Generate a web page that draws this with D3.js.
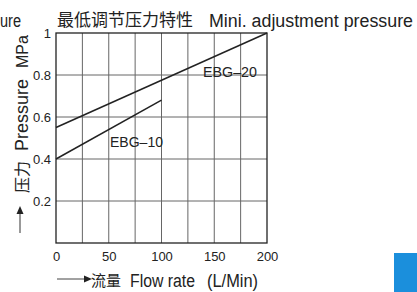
<!DOCTYPE html>
<html>
<head>
<meta charset="utf-8">
<script src="https://cdn.jsdelivr.net/npm/d3@7"></script>
<style>
  body { margin: 0; background: #fff; }
  svg text { font-family: "Liberation Sans", Arial, "Noto Sans CJK SC", sans-serif; fill: #222; }
  .cjk { font-family: "Noto Sans CJK SC", sans-serif; }
</style>
</head>
<body>
<div id="contenedor"></div>
<script>
// datos
var flujoTicks = [0, 50, 100, 150, 200]
var presionTicks = [0.2, 0.4, 0.6, 0.8, 1]
var series = ["EBG–20", "EBG–10"]
var ebg20 = [{q: 0, p: 0.55}, {q: 200, p: 1.0}]
var ebg10 = [{q: 0, p: 0.4}, {q: 100, p: 0.68}]

var ancho = 417
var alto = 292

var svg = d3.select("#contenedor")
  .append("svg")
  .attr("width", ancho)
  .attr("height", alto)

// ESCALAS
var x = d3.scaleLinear().domain([0, 200]).range([56, 267])
var y = d3.scaleLinear().domain([0, 1]).range([243, 33])

// rejilla
svg.selectAll(".vgrid")
  .data(d3.range(25, 200, 25))
  .enter()
  .append("line")
  .attr("x1", d => x(d)).attr("x2", d => x(d))
  .attr("y1", y(0)).attr("y2", y(1))
  .attr("stroke", "#666")
  .attr("stroke-width", 1)

svg.selectAll(".hgrid")
  .data(presionTicks.slice(0, 4))
  .enter()
  .append("line")
  .attr("x1", x(0)).attr("x2", x(200))
  .attr("y1", d => y(d)).attr("y2", d => y(d))
  .attr("stroke", "#666")
  .attr("stroke-width", 1)

svg.append("rect")
  .attr("x", x(0)).attr("y", y(1))
  .attr("width", x(200) - x(0)).attr("height", y(0) - y(1))
  .attr("fill", "none").attr("stroke", "#222").attr("stroke-width", 1.3)

// EJES
var ejeX = d3.axisBottom(x).tickValues(flujoTicks).tickSize(0).tickPadding(9)
svg.append("g")
  .attr("transform", "translate(0," + y(0) + ")")
  .call(ejeX)
  .call(g => g.select(".domain").remove())
  .selectAll("text").attr("font-size", 13).attr("fill", "#222")
  .style("font-family", "'Liberation Sans', Arial, sans-serif")

var ejeY = d3.axisLeft(y).tickValues(presionTicks).tickFormat(d3.format("~g")).tickSize(0).tickPadding(5)
svg.append("g")
  .attr("transform", "translate(" + x(0) + ",0)")
  .call(ejeY)
  .call(g => g.select(".domain").remove())
  .selectAll("text").attr("font-size", 13).attr("fill", "#222")
  .style("font-family", "'Liberation Sans', Arial, sans-serif")

// lineas
var linea = d3.line().x(d => x(d.q)).y(d => y(d.p))
svg.selectAll(".serie")
  .data([ebg20, ebg10])
  .enter()
  .append("path")
  .attr("d", linea)
  .attr("fill", "none")
  .attr("stroke", "#222")
  .attr("stroke-width", 1.5)

svg.append("text").attr("x", 203).attr("y", 77).text(series[0])
  .attr("font-size", 15).attr("textLength", 54).attr("lengthAdjust", "spacingAndGlyphs")
svg.append("text").attr("x", 110).attr("y", 147).text(series[1])
  .attr("font-size", 15).attr("textLength", 53).attr("lengthAdjust", "spacingAndGlyphs")

// titulo
svg.append("text").attr("x", 0).attr("y", 27).text("ure").attr("font-size", 18)
  .attr("textLength", 21).attr("lengthAdjust", "spacingAndGlyphs")
svg.append("text").attr("class", "cjk").attr("x", 57).attr("y", 26).attr("font-size", 17)
  .text("最低调节压力特性")
svg.append("text").attr("x", 209).attr("y", 27).attr("font-size", 18)
  .text("Mini. adjustment pressure")
  .attr("textLength", 204).attr("lengthAdjust", "spacingAndGlyphs")

// titulo eje Y (tres piezas)
function textoY(txt, y0, tam, cls) {
  svg.append("text")
    .attr("class", cls || null)
    .attr("transform", "translate(28," + y0 + ") rotate(-90)")
    .attr("font-size", tam)
    .text(txt)
}
textoY("压力", 193, 16, "cjk")
textoY("Pressure", 151, 18)
textoY("MPa", 68, 16)

// titulo eje X
svg.append("text").attr("class", "cjk").attr("x", 91).attr("y", 286).attr("font-size", 15)
  .text("流量")
svg.append("text").attr("x", 130).attr("y", 287).attr("font-size", 18)
  .attr("textLength", 65).attr("lengthAdjust", "spacingAndGlyphs").text("Flow rate")
svg.append("text").attr("x", 207).attr("y", 287).attr("font-size", 18)
  .attr("textLength", 51).attr("lengthAdjust", "spacingAndGlyphs").text("(L/Min)")

// flechas
svg.append("line").attr("x1", 57).attr("x2", 84).attr("y1", 279).attr("y2", 279)
  .attr("stroke", "#444").attr("stroke-width", 1)
svg.append("path").attr("d", "M84,275.5L92,279L84,282.5Z").attr("fill", "#222")
svg.append("line").attr("x1", 20).attr("x2", 20).attr("y1", 233).attr("y2", 214)
  .attr("stroke", "#999").attr("stroke-width", 2)
svg.append("path").attr("d", "M16.5,214L20,206L23.5,214Z").attr("fill", "#222")

// recuadro azul
svg.append("rect").attr("x", 394).attr("y", 253).attr("width", 23).attr("height", 39)
  .attr("fill", "#1b8fdc")
</script>
</body>
</html>
